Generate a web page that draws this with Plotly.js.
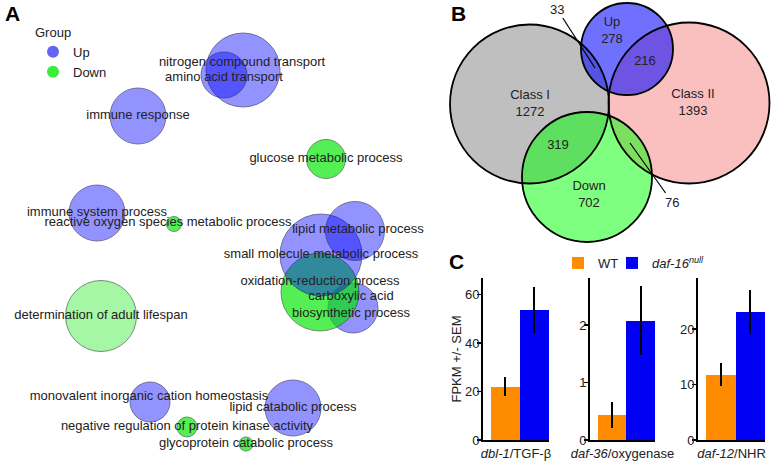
<!DOCTYPE html>
<html><head><meta charset="utf-8">
<script src="https://cdn.plot.ly/plotly-3.0.1.min.js"></script>
<style>html,body{margin:0;padding:0;background:#fff}#chart{width:777px;height:463px}</style>
</head><body><div id="chart"></div>
<script>
// ---------- Panel A: GO term semantic-space bubbles ----------
const goTerms = ['nitrogen compound transport','amino acid transport','immune response','glucose metabolic process',
  'immune system process','reactive oxygen species metabolic process','carboxylic acid biosynthetic process',
  'oxidation-reduction process','small molecule metabolic process','lipid metabolic process',
  'determination of adult lifespan','monovalent inorganic cation homeostasis','lipid catabolic process',
  'negative regulation of protein kinase activity','glycoprotein catabolic process'];
const goGroup = ['Up','Up','Up','Down','Up','Down','Up','Down','Up','Up','Down','Up','Up','Down','Down'];
const goX = [243,224,138,326,97,174,353,320,321,355,101,150,293,187,246];
const goY = [70,75,116,159,213,224,308,292,255,231,316,402,408,427,444];
const goSize = [74,46,56,39,56,15,50,78,82,59,71,40,56,20,14];
const groups = ['Up','Down'];

// ---------- Panel B: Venn diagram ----------
const vennSets = ['Class I','Class II','Up','Down'];
const vennCX = [529.5,689,627,587];
const vennCY = [104,103,49,177];
const vennR = [79.5,80.5,46,65];
const regionNames = ['Up','','Class I','Class II','','Down'];
const regionCounts = [278,216,1272,1393,319,702];
const regionX = [612,645,530,693,558,589];
const regionY = [31,62,104,103,146,195];
const calloutCounts = [33,76];
const calloutX = [595,630];
const calloutY = [68,143];
const calloutTextX = [557,672];
const calloutTextY = [9,202];

// ---------- Panel C: FPKM bars ----------
const genes = ['dbl-1','daf-36','daf-12'];
const geneRoles = ['TGF-β','oxygenase','NHR'];
const genotypes = ['WT','daf-16null'];
const wtFPKM = [22,0.44,11.8];
const wtSEM = [4,0.23,2.1];
const nullFPKM = [53.5,2.08,23.1];
const nullSEM = [9.5,0.6,4];
const yTicks = [[0,20,40,60],[0,1,2],[0,10,20]];

// ---------- styles ----------
const FONT = 'Liberation Sans, Arial, sans-serif';
const TXT = '#222';
const upColor = 'rgba(0,0,255,0.6)';
const downBright = 'rgba(0,232,0,0.95)';
const downLight = 'rgba(0,232,0,0.5)';
const lightTerms = {'determination of adult lifespan':1};
const labelNudge = {
  'nitrogen compound transport':[-1,-7],
  'amino acid transport':[0,3],
  'oxidation-reduction process':[0,-10],
  'reactive oxygen species metabolic process':[-6,-1],
  'monovalent inorganic cation homeostasis':[-1,-5],
  'carboxylic acid biosynthetic process':[-2,-3],
  'lipid metabolic process':[3,-1]
};
const labelText = {'carboxylic acid biosynthetic process':'carboxylic acid<br>biosynthetic process'};

const traces = [];
traces.push({
  type:'scatter', mode:'markers', xaxis:'x', yaxis:'y', x:goX, y:goY, showlegend:false, hoverinfo:'skip',
  marker:{size:goSize, sizemode:'diameter', sizeref:1,
    color:goTerms.map((t,i)=>goGroup[i]==='Up'?upColor:(lightTerms[t]?downLight:downBright)),
    line:{width:1, color:goGroup.map(g=>g==='Up'?'rgba(30,30,90,0.85)':'rgba(30,70,30,0.85)')}}
});
traces.push({
  type:'scatter', mode:'text', xaxis:'x', yaxis:'y', showlegend:false, hoverinfo:'skip',
  x:goTerms.map((t,i)=>goX[i]+((labelNudge[t]||[0,0])[0])),
  y:goTerms.map((t,i)=>goY[i]+((labelNudge[t]||[0,0])[1])),
  text:goTerms.map(t=>labelText[t]||t), textposition:'middle center',
  textfont:{family:FONT,size:13,color:TXT}
});
groups.forEach(g=>traces.push({
  type:'scatter', mode:'markers', xaxis:'x', yaxis:'y', x:[null], y:[null], name:g, legend:'legend',
  marker:{size:9, color:g==='Up'?'rgb(100,100,245)':'rgb(60,235,60)'}
}));
// Venn labels
traces.push({
  type:'scatter', mode:'text', xaxis:'x', yaxis:'y', showlegend:false, hoverinfo:'skip',
  x:regionX, y:regionY,
  text:regionCounts.map((c,i)=>regionNames[i]?regionNames[i]+'<br>'+c:String(c)),
  textposition:'middle center', textfont:{family:FONT,size:13,color:TXT}
});
// Bars
const barColors = ['#ff8c00','#0000f5'];
genes.forEach((g,i)=>{
  const ax = i+2;
  [[wtFPKM,wtSEM],[nullFPKM,nullSEM]].forEach((d,k)=>{
    traces.push({
      type:'bar', xaxis:'x'+ax, yaxis:'y'+ax, x:[genotypes[k]], y:[d[0][i]],
      name: k===0?'WT':'<i>daf-16<sup>null</sup></i>', legend:k===0?'legend2':'legend3', showlegend:i===0,
      marker:{color:barColors[k], line:{width:0}},
      error_y:{type:'data', array:[d[1][i]], visible:true, color:'#000', thickness:2, width:0}
    });
  });
});

const shapes = [];
const vennFill = ['rgba(128,128,128,0.5)','rgba(245,128,128,0.5)','rgba(0,0,255,0.56)','rgba(0,255,0,0.5)'];
vennSets.forEach((s,i)=>shapes.push({type:'circle', xref:'x', yref:'y', layer:'below',
  x0:vennCX[i]-vennR[i], x1:vennCX[i]+vennR[i], y0:vennCY[i]-vennR[i], y1:vennCY[i]+vennR[i],
  fillcolor:vennFill[i], line:{width:0}}));
vennSets.forEach((s,i)=>shapes.push({type:'circle', xref:'x', yref:'y', layer:'below',
  x0:vennCX[i]-vennR[i], x1:vennCX[i]+vennR[i], y0:vennCY[i]-vennR[i], y1:vennCY[i]+vennR[i],
  fillcolor:'rgba(0,0,0,0)', line:{width:1.8, color:'#000'}}));

const annotations = [
  {text:'<b>A</b>', xref:'paper', yref:'paper', x:3/777, y:1-0/463, xanchor:'left', yanchor:'top', showarrow:false, font:{family:FONT,size:21,color:'#000'}},
  {text:'<b>B</b>', xref:'paper', yref:'paper', x:449/777, y:1-0/463, xanchor:'left', yanchor:'top', showarrow:false, font:{family:FONT,size:21,color:'#000'}},
  {text:'<b>C</b>', xref:'paper', yref:'paper', x:447/777, y:1-248/463, xanchor:'left', yanchor:'top', showarrow:false, font:{family:FONT,size:21,color:'#000'}}
];
calloutCounts.forEach((c,i)=>annotations.push({
  text:String(c), xref:'x', yref:'y', axref:'x', ayref:'y', x:calloutX[i], y:calloutY[i],
  ax:calloutTextX[i], ay:calloutTextY[i], showarrow:true, arrowhead:0, arrowwidth:1.2, arrowcolor:'#000',
  font:{family:FONT,size:13,color:TXT}
}));

const dom = [[483,549],[590,655],[698,765]];
const yTop = [66.8,2.82,29.2];
const legC = {orientation:'h', xanchor:'left', yanchor:'top', bgcolor:'rgba(0,0,0,0)', font:{family:FONT,size:13,color:TXT}};
const layout = {
  width:777, height:463, margin:{l:0,r:0,t:0,b:0}, paper_bgcolor:'#fff', plot_bgcolor:'rgba(0,0,0,0)',
  font:{family:FONT,size:13,color:TXT}, barmode:'overlay', bargap:0,
  xaxis:{domain:[0,1], range:[0,777], visible:false, fixedrange:true},
  yaxis:{domain:[0,1], range:[463,0], visible:false, fixedrange:true},
  shapes, annotations,
  legend:{x:33/777, y:1-20/463, xanchor:'left', yanchor:'top', bgcolor:'rgba(0,0,0,0)',
    title:{text:'Group', font:{family:FONT,size:13,color:TXT}}, font:{family:FONT,size:13,color:TXT},
    tracegroupgap:0, itemsizing:'constant'},
  legend2:Object.assign({x:558/777, y:1-248/463}, legC),
  legend3:Object.assign({x:612/777, y:1-248/463}, legC)
};
genes.forEach((g,i)=>{
  const ax = i+2;
  layout['xaxis'+ax] = {domain:[dom[i][0]/777, dom[i][1]/777], anchor:'y'+ax, type:'category',
    categoryarray:genotypes, range:[-0.775,1.5], showticklabels:false, ticks:'', showgrid:false, zeroline:false,
    showline:true, linecolor:'#000', linewidth:2,
    title:{text:'<i>'+g+'</i>/'+geneRoles[i], standoff:8, font:{family:FONT,size:13,color:TXT}}};
  layout['yaxis'+ax] = {domain:[23/463,185/463], anchor:'x'+ax, range:[0,yTop[i]], tickvals:yTicks[i],
    showgrid:false, zeroline:false, showline:true, linecolor:'#000', linewidth:2,
    ticks:'outside', ticklen:4, tickwidth:1.5, tickcolor:'#000', ticklabelstandoff:-5,
    tickfont:{family:FONT,size:13,color:TXT},
    title: i===0?{text:'FPKM +/- SEM', standoff:0, font:{family:FONT,size:13,color:TXT}}:undefined};
});

Plotly.newPlot('chart', traces, layout, {displayModeBar:false, staticPlot:true});
</script></body></html>
